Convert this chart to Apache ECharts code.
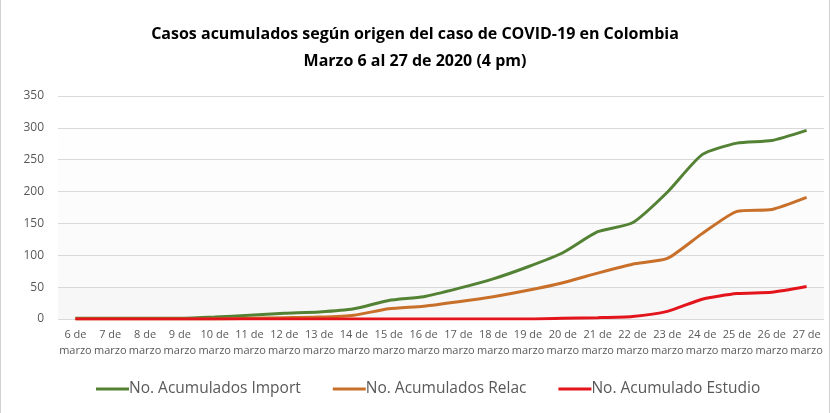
<!DOCTYPE html>
<html>
<head>
<meta charset="utf-8">
<script src="https://cdn.jsdelivr.net/npm/echarts@6/dist/echarts.min.js"></script>
<style>
html, body { margin: 0; padding: 0; background: #fff; }
#chart { width: 830px; height: 413px; box-sizing: border-box; border-left: 1px solid #d0d0d0; border-right: 1px solid #d0d0d0; }
</style>
</head>
<body>
<div id="chart"></div>
<script>
// fechas del eje x
const dias = ['6 de\nmarzo', '7 de\nmarzo', '8 de\nmarzo', '9 de\nmarzo', '10 de\nmarzo', '11 de\nmarzo',
  '12 de\nmarzo', '13 de\nmarzo', '14 de\nmarzo', '15 de\nmarzo', '16 de\nmarzo', '17 de\nmarzo',
  '18 de\nmarzo', '19 de\nmarzo', '20 de\nmarzo', '21 de\nmarzo', '22 de\nmarzo', '23 de\nmarzo',
  '24 de\nmarzo', '25 de\nmarzo', '26 de\nmarzo', '27 de\nmarzo']
const importados = [1, 1, 1, 1, 3, 6, 9, 11, 16, 29, 35, 48, 63, 82, 104, 137, 151, 199, 258, 276, 280, 296]
const relacionados = [0, 0, 0, 0, 0, 1, 2, 3, 6, 16, 20, 27, 35, 45, 57, 72, 86, 95, 134, 169, 172, 191]
const estudio = [0, 0, 0, 0, 0, 0, 0, 0, 0, 0, 0, 0, 0, 0, 1, 2, 4, 12, 31, 40, 42, 51]
const nombres = ['No. Acumulados Import', 'No. Acumulados Relac', 'No. Acumulado Estudio']
const colores = ['#548235', '#c8702a', '#e3141b']

const chart = echarts.init(document.getElementById('chart'))
const font = 'Open Sans'
const serie = (name, data, color) => ({
  name: name,
  type: 'line',
  data: data,
  smooth: 0.2,
  symbol: 'none',
  lineStyle: { width: 3, color: color },
  itemStyle: { color: color }
})

chart.setOption({
  textStyle: { fontFamily: font },
  title: {
    text: 'Casos acumulados según origen del caso de COVID-19 en Colombia\nMarzo 6 al 27 de 2020 (4 pm)',
    left: 'center',
    top: 16,
    textStyle: { fontFamily: font, fontSize: 16, fontWeight: 'bold', color: '#000', lineHeight: 27 }
  },
  legend: {
    bottom: 11,
    left: 90,
    itemWidth: 33,
    itemHeight: 3,
    itemGap: 32,
    icon: 'rect',
    textStyle: { fontFamily: font, fontSize: 15.5, color: '#595959', padding: [0, 0, 0, -5] },
    data: nombres
  },
  grid: { left: 57, right: 5, top: 96, bottom: 94 },
  xAxis: {
    type: 'category',
    data: dias,
    boundaryGap: true,
    axisLine: { show: false },
    axisTick: { show: false },
    axisLabel: { interval: 0, fontSize: 11, color: '#595959', lineHeight: 16, margin: 8 }
  },
  yAxis: {
    type: 'value',
    min: 0,
    max: 350,
    interval: 50,
    axisLine: { show: false },
    axisTick: { show: false },
    axisLabel: { fontSize: 12, color: '#595959', margin: 14 },
    splitLine: { lineStyle: { color: '#d9d9d9', width: 1 } },
    splitArea: {
      show: true,
      areaStyle: { color: ['#f7f7f7', '#fafafa', '#fbfbfb', '#fcfcfc', '#fdfdfd', '#fefefe', '#ffffff'] }
    }
  },
  series: [
    serie(nombres[0], importados, colores[0]),
    serie(nombres[1], relacionados, colores[1]),
    serie(nombres[2], estudio, colores[2])
  ]
})
</script>
</body>
</html>
